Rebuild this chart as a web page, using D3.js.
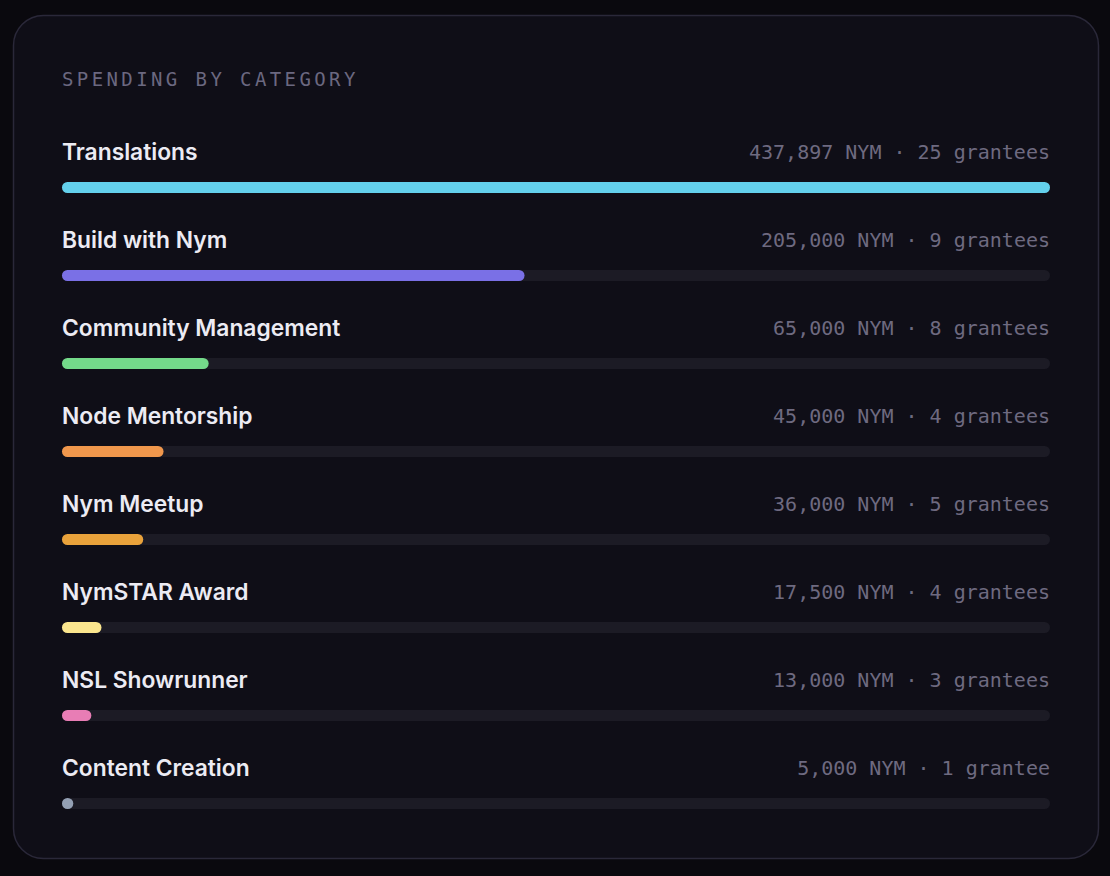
<!DOCTYPE html>
<html>
<head>
<meta charset="utf-8">
<script src="https://cdn.jsdelivr.net/npm/d3@7"></script>
<style>
  html, body { margin: 0; padding: 0; background: #0a090e; }
  svg { display: block; }
</style>
</head>
<body>
<div id="chart"></div>
<script>
// spending per grant category
var categories = ["Translations", "Build with Nym", "Community Management", "Node Mentorship",
                  "Nym Meetup", "NymSTAR Award", "NSL Showrunner", "Content Creation"];
var amounts = [437897, 205000, 65000, 45000, 36000, 17500, 13000, 5000];
var grantees = [25, 9, 8, 4, 5, 4, 3, 1];
var colors = ["#63d0ec", "#7a70e6", "#74d98a", "#f0974c", "#e9a23b", "#fbe68e", "#e87db5", "#94a0b4"];

var W = 1110, H = 876;
var left = 62, right = 1050;
var rowTop = 128, rowStep = 88;

var svg = d3.select("#chart").append("svg")
  .attr("width", W)
  .attr("height", H);

// card
svg.append("rect")
  .attr("x", 13.5).attr("y", 15.5)
  .attr("width", 1085).attr("height", 843)
  .attr("rx", 30)
  .style("fill", "#0f0e17")
  .style("stroke", "#2a2839")
  .style("stroke-width", 1.5);

svg.append("text")
  .attr("x", left).attr("y", 86)
  .text("SPENDING BY CATEGORY")
  .style("font-family", "DejaVu Sans Mono, monospace")
  .style("font-size", "19px")
  .style("letter-spacing", "3.4px")
  .style("fill", "#6b6880");

var data = categories.map(function (c, i) {
  return { name: c, amount: amounts[i], n: grantees[i], color: colors[i] };
});

var x = d3.scaleLinear()
  .domain([0, d3.max(amounts)])
  .range([0, right - left]);

var y = d3.scaleBand()
  .domain(categories)
  .range([rowTop, rowTop + rowStep * categories.length]);

var rows = svg.selectAll("g.row")
  .data(data)
  .enter()
  .append("g")
  .attr("class", "row")
  .attr("transform", function (d) { return "translate(" + left + "," + y(d.name) + ")"; });

rows.append("text")
  .attr("x", 0).attr("y", 32)
  .text(function (d) { return d.name; })
  .style("font-family", "Inter, sans-serif")
  .style("font-weight", 600)
  .style("font-size", "22.8px")
  .style("fill", "#ecebf3");

rows.append("text")
  .attr("x", right - left).attr("y", 31)
  .attr("text-anchor", "end")
  .text(function (d) {
    return d3.format(",")(d.amount) + " NYM \u00b7 " + d.n + (d.n == 1 ? " grantee" : " grantees");
  })
  .style("font-family", "DejaVu Sans Mono, monospace")
  .style("font-size", "20px")
  .style("fill", "#6e6a80");

// track
rows.append("rect")
  .attr("x", 0).attr("y", 54)
  .attr("width", right - left).attr("height", 11)
  .attr("rx", 5.5)
  .style("fill", "#1c1b25");

rows.append("rect")
  .attr("x", 0).attr("y", 54)
  .attr("width", function (d) { return Math.max(x(d.amount), 11); })
  .attr("height", 11)
  .attr("rx", 5.5)
  .style("fill", function (d) { return d.color; });
</script>
</body>
</html>
